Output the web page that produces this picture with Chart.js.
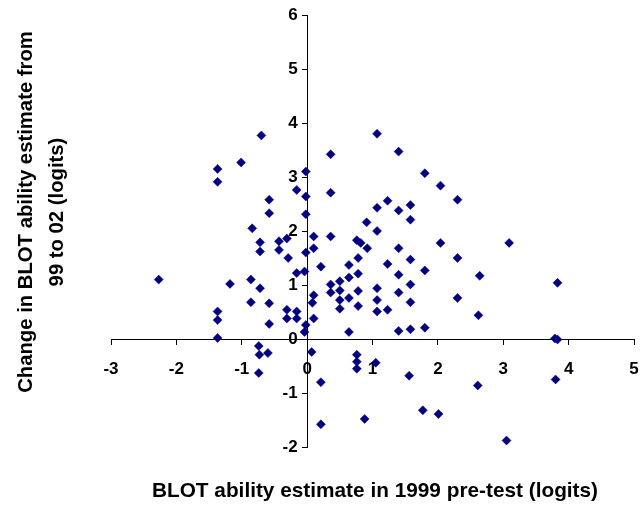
<!DOCTYPE html>
<html>
<head>
<meta charset="utf-8">
<script src="https://cdn.jsdelivr.net/npm/chart.js@4"></script>
<style>
  body { margin: 0; background: #fff; }
  #wrap { width: 642px; height: 508px; }
</style>
</head>
<body>
<div id="wrap"><canvas id="chart-scatter" width="642" height="508"></canvas></div>
<script>
// BLOT ability in 1999 pre-test (x) vs change 99 -> 02 (y), logits
var xValues = [
  -2.27, -1.37, -1.37, -1.37, -1.37, -1.37, -1.18, -1.01, -0.86, -0.86,
  -0.84, -0.74, -0.73, -0.74, -0.72, -0.72, -0.72, -0.70, -0.60, -0.58,
  -0.58, -0.58, -0.58, -0.43, -0.43, -0.31, -0.31, -0.31, -0.29, -0.16,
  -0.16, -0.16, -0.16, -0.04, -0.04, -0.02, -0.02, -0.02, -0.02, -0.02,
  0.07, 0.08, 0.10, 0.10, 0.10, 0.10, 0.21, 0.21, 0.21, 0.36,
  0.36, 0.36, 0.36, 0.36, 0.50, 0.50, 0.50, 0.50, 0.64, 0.64,
  0.64, 0.64, 0.76, 0.78, 0.78, 0.78, 0.78, 0.76, 0.76, 0.76,
  0.82, 0.88, 0.91, 0.92, 1.05, 1.07, 1.07, 1.07, 1.07, 1.07,
  1.07, 1.23, 1.23, 1.23, 1.40, 1.40, 1.40, 1.40, 1.40, 1.40,
  1.56, 1.58, 1.58, 1.58, 1.58, 1.58, 1.58, 1.77, 1.80, 1.80,
  1.80, 2.01, 2.04, 2.04, 2.30, 2.30, 2.30, 2.61, 2.62, 2.64,
  3.05, 3.09, 3.79, 3.83, 3.80, 3.83
];
var yValues = [
  1.10, 3.15, 2.91, 0.51, 0.35, 0.02, 1.02, 3.27, 1.10, 0.68,
  2.05, -0.13, -0.29, -0.63, 1.79, 1.62, 0.94, 3.77, -0.26, 2.58,
  2.33, 0.66, 0.28, 1.81, 1.65, 1.86, 0.54, 0.38, 1.50, 2.76,
  1.22, 0.51, 0.38, 1.25, 0.13, 3.10, 2.64, 2.31, 1.60, 0.26,
  -0.24, 0.67, 1.90, 1.68, 0.81, 0.38, 1.34, -0.80, -1.58, 3.42,
  2.71, 1.90, 1.01, 0.86, 1.07, 0.90, 0.72, 0.56, 1.37, 1.14,
  0.76, 0.13, 1.83, 1.50, 1.21, 0.89, 0.61, -0.29, -0.42, -0.55,
  1.78, -1.48, 2.16, 1.68, -0.44, 3.80, 2.43, 2.00, 0.94, 0.72,
  0.51, 2.56, 1.39, 0.54, 3.47, 2.38, 1.68, 1.19, 0.86, 0.15,
  -0.68, 2.48, 2.21, 1.47, 1.01, 0.68, 0.18, -1.32, 3.07, 1.27,
  0.21, -1.39, 2.84, 1.78, 2.58, 1.50, 0.76, -0.86, 0.44, 1.17,
  -1.88, 1.78, 0.01, -0.01, -0.75, 1.04
];

var xTicks = [-3, 5, 1];   // min, max, step
var yTicks = [-2, 6, 1];
var xTitle = 'BLOT ability estimate in 1999 pre-test (logits)';
var yTitle = ['Change in BLOT ability estimate from', '99 to 02 (logits)'];

var points = xValues.map(function (x, i) { return {x: x, y: yValues[i]}; });

var FONT = '"Liberation Sans", Arial, sans-serif';

var axisTitles = {
  id: 'axisTitles',
  afterDraw: function (chart) {
    var ctx = chart.ctx;
    ctx.save();
    ctx.fillStyle = '#000';
    ctx.textAlign = 'center';
    ctx.textBaseline = 'middle';
    ctx.font = 'bold 20.8px ' + FONT;
    ctx.fillText(xTitle, 375, 491);
    ctx.font = 'bold 20.3px ' + FONT;
    ctx.translate(26, 212);
    ctx.rotate(-Math.PI / 2);
    ctx.fillText(yTitle[0], 0, 0);
    ctx.fillText(yTitle[1], 0, 31);
    ctx.restore();
  }
};

function render_chart() {
  var ctx = document.getElementById('chart-scatter');
  new Chart(ctx, {
    type: 'scatter',
    data: {
      datasets: [{
        data: points,
        pointStyle: 'rectRot',
        pointRadius: 4.5,
        borderWidth: 0.5,
        borderColor: '#000080',
        backgroundColor: '#000080'
      }]
    },
    options: {
      responsive: false,
      animation: false,
      layout: {
        padding: {left: 111, right: 8, top: 15, bottom: 61}
      },
      plugins: {
        legend: {display: false},
        tooltip: {enabled: false}
      },
      scales: {
        x: {
          type: 'linear',
          position: {y: 0},
          min: xTicks[0],
          max: xTicks[1],
          ticks: {
            stepSize: xTicks[2],
            padding: 2,
            color: '#000',
            font: {family: FONT, size: 17, weight: 'bold', lineHeight: 2.7}
          },
          grid: {drawOnChartArea: false, drawTicks: true, tickLength: 5, color: '#000'},
          border: {display: true, color: '#000', width: 1}
        },
        y: {
          type: 'linear',
          position: {x: 0},
          min: yTicks[0],
          max: yTicks[1],
          ticks: {
            stepSize: yTicks[2],
            color: '#000',
            font: {family: FONT, size: 17, weight: 'bold'},
            callback: function (v) { return v + '  '; }
          },
          grid: {drawOnChartArea: false, drawTicks: true, tickLength: 5, color: '#000'},
          border: {display: true, color: '#000', width: 1}
        }
      }
    },
    plugins: [axisTitles]
  });
}
render_chart();
</script>
</body>
</html>
